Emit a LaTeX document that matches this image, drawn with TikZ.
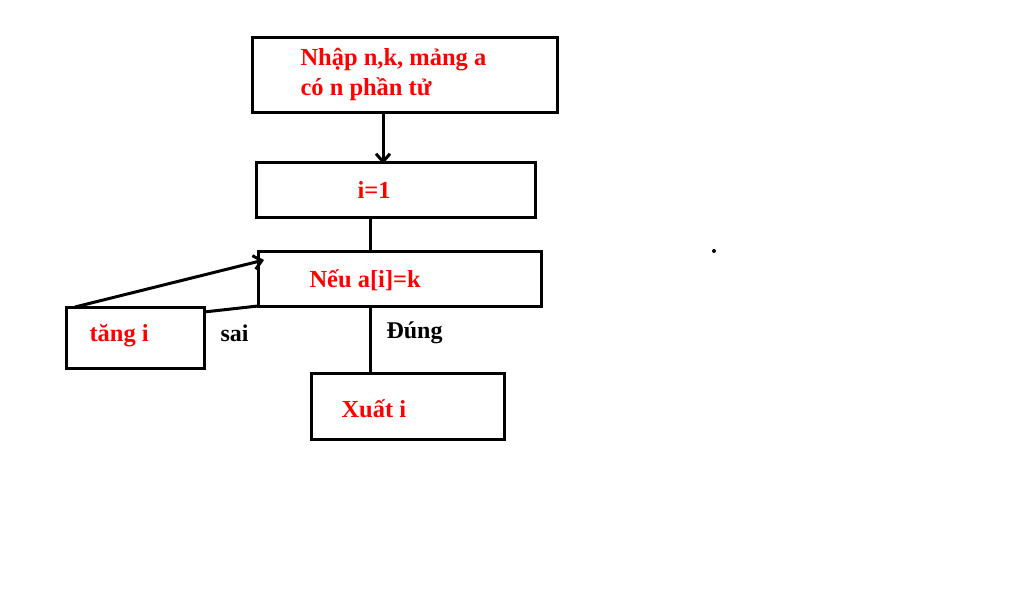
\documentclass[tikz,border=0pt]{standalone}
\usepackage{fontspec}
\setmainfont{Liberation Serif}
\usetikzlibrary{positioning,arrows.meta}
\begin{document}
\begin{tikzpicture}[x=1pt, y=-1pt, line width=3pt,
	redtxt/.style={text=red, font=\fontsize{24.5}{30}\selectfont\bfseries, align=left, anchor=west, inner sep=0pt},
	blktxt/.style={font=\fontsize{24}{30}\selectfont\bfseries, anchor=west, inner sep=0pt},
	arr/.style={-{Straight Barb[length=8pt, width=14pt]}}]
	\useasboundingbox[fill=white] (0,0) rectangle (1024,592);
	% hop
	\draw (252,37) rectangle (557,112);
	\node[redtxt] (nhap) at (299,74) {Nhập n,k, mảng a\\có n phần tử};
	\draw (256,162) rectangle (535,217);
	\node[redtxt] (gan) at (356,190) {i=1};
	\draw (258,251) rectangle (541,306);
	\node[redtxt] (neu) at (308,280) {Nếu a[i]=k};
	\draw (66,307) rectangle (204,368);
	\node[redtxt] (tang) at (88,336) {tăng i};
	\draw (311,373) rectangle (504,439);
	\node[redtxt] (xuat) at (340,409) {Xuất i};
	% noi
	\coordinate (a1) at (383,112);
	\coordinate (a2) at (383,164);
	\draw[arr] (a1) -- (a2);
	\coordinate (b1) at (370,217);
	\coordinate (b2) at (370,251);
	\draw (b1) -- (b2);
	\coordinate (c1) at (370,306);
	\coordinate (c2) at (370,373);
	\draw (c1) -- (c2);
	\coordinate (d1) at (75,307);
	\coordinate (d2) at (264,260);
	\draw[arr] (d1) -- (d2);
	\coordinate (e1) at (204,312);
	\coordinate (e2) at (258,306);
	\draw (e1) -- (e2);
	\node[blktxt] (sai) at (219,333) {sai};
	\node[blktxt] (dung) at (385,333) {Đúng};
	\fill (714,251) circle (2);
\end{tikzpicture}
\end{document}
